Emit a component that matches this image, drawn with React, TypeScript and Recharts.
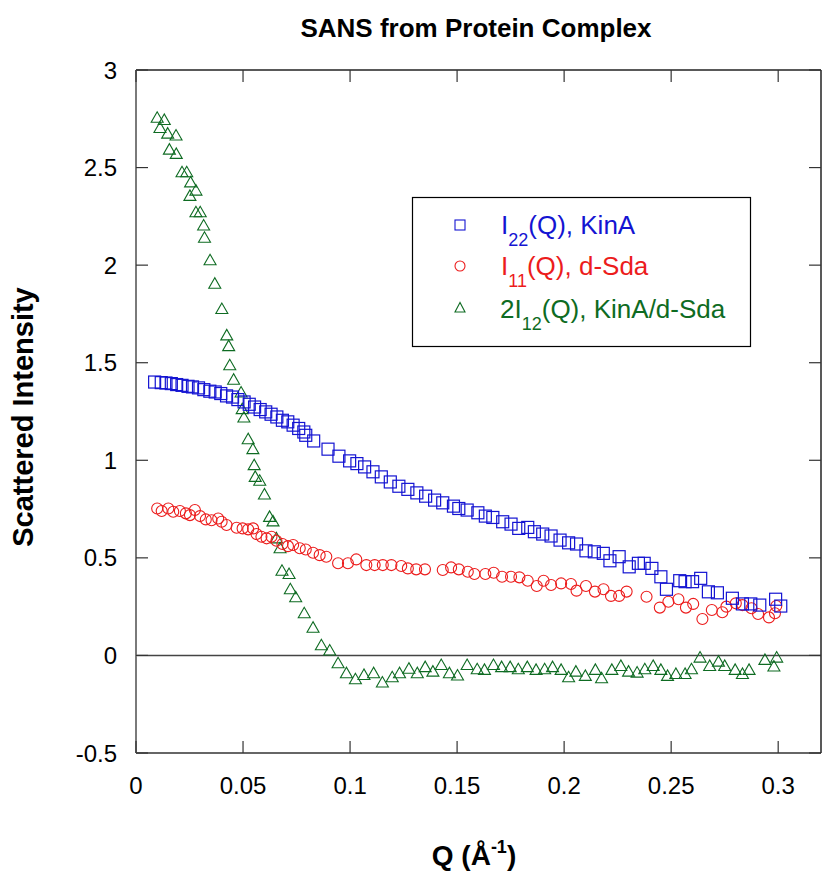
import React from "react";
import { ScatterChart, Scatter, XAxis, YAxis, ReferenceLine } from "recharts";

// ---- Data ----
const xTicks = [0, 0.05, 0.1, 0.15, 0.2, 0.25, 0.3];
const yTicks = [-0.5, 0, 0.5, 1, 1.5, 2, 2.5, 3];

const kinaQ = [
  0.0087, 0.0118, 0.014, 0.0165, 0.019, 0.0215, 0.0243, 0.0264, 0.0292, 0.0317,
  0.0345, 0.037, 0.0396, 0.0423, 0.0451, 0.0476, 0.0505, 0.0529, 0.0554, 0.058,
  0.0606, 0.0631, 0.0658, 0.0684, 0.0709, 0.0734, 0.076, 0.0784, 0.0793, 0.083,
  0.0897, 0.0948, 0.0998, 0.1032, 0.1068, 0.1107, 0.1146, 0.1188, 0.1228, 0.127,
  0.1312, 0.1353, 0.1395, 0.1433, 0.1483, 0.1508, 0.1547, 0.1597, 0.1632, 0.1667,
  0.1713, 0.1752, 0.1788, 0.183, 0.1861, 0.19, 0.1939, 0.1981, 0.2021, 0.2058,
  0.2102, 0.2141, 0.2183, 0.2214, 0.2257, 0.2304, 0.2347, 0.2374, 0.241, 0.2452,
  0.2478, 0.254, 0.2565, 0.26, 0.2638, 0.2674, 0.2716, 0.2786, 0.2833, 0.2872,
  0.2914, 0.2988, 0.3012,
];
const kinaI = [
  1.401, 1.398, 1.396, 1.393, 1.388, 1.384, 1.379, 1.376, 1.371, 1.362,
  1.354, 1.35, 1.342, 1.33, 1.324, 1.311, 1.299, 1.287, 1.273, 1.26,
  1.248, 1.236, 1.222, 1.205, 1.197, 1.18, 1.163, 1.145, 1.128, 1.099,
  1.057, 1.021, 0.997, 0.983, 0.966, 0.941, 0.915, 0.889, 0.867, 0.851,
  0.833, 0.816, 0.796, 0.782, 0.765, 0.753, 0.745, 0.731, 0.714, 0.707,
  0.685, 0.673, 0.651, 0.656, 0.634, 0.622, 0.612, 0.591, 0.577, 0.571,
  0.536, 0.531, 0.523, 0.485, 0.506, 0.454, 0.472, 0.472, 0.446, 0.403,
  0.339, 0.383, 0.378, 0.378, 0.395, 0.326, 0.321, 0.293, 0.264, 0.264,
  0.258, 0.288, 0.253,
];

const sdaQ = [
  0.0099, 0.012, 0.0151, 0.0174, 0.0205, 0.0233, 0.0252, 0.0275, 0.0299, 0.0326,
  0.0353, 0.0384, 0.04, 0.0423, 0.047, 0.0498, 0.0524, 0.0547, 0.0563, 0.0586,
  0.061, 0.0633, 0.0656, 0.0684, 0.071, 0.0734, 0.0765, 0.0793, 0.0827, 0.0858,
  0.0889, 0.0944, 0.099, 0.1029, 0.1076, 0.1115, 0.1153, 0.1193, 0.1239, 0.127,
  0.1309, 0.135, 0.1433, 0.1472, 0.1508, 0.155, 0.1581, 0.1632, 0.1671, 0.171,
  0.1752, 0.1791, 0.183, 0.1872, 0.1904, 0.1939, 0.1986, 0.2032, 0.2058, 0.2102,
  0.2144, 0.2184, 0.2219, 0.2257, 0.2292, 0.2385, 0.2447, 0.2487, 0.2534, 0.2569,
  0.2603, 0.2646, 0.269, 0.2739, 0.2758, 0.2802, 0.2833, 0.2875, 0.2906, 0.2957,
  0.2985, 0.2991,
];
const sdaI = [
  0.753, 0.74, 0.753, 0.736, 0.74, 0.728, 0.719, 0.745, 0.714, 0.697,
  0.693, 0.702, 0.685, 0.668, 0.654, 0.651, 0.646, 0.651, 0.622, 0.608,
  0.6, 0.608, 0.588, 0.571, 0.56, 0.566, 0.549, 0.543, 0.526, 0.514,
  0.506, 0.472, 0.472, 0.492, 0.463, 0.463, 0.463, 0.463, 0.458, 0.446,
  0.441, 0.441, 0.438, 0.451, 0.441, 0.429, 0.417, 0.417, 0.424, 0.403,
  0.403, 0.4, 0.383, 0.356, 0.383, 0.361, 0.369, 0.366, 0.332, 0.356,
  0.327, 0.339, 0.305, 0.305, 0.327, 0.301, 0.245, 0.275, 0.288, 0.245,
  0.264, 0.187, 0.233, 0.221, 0.25, 0.267, 0.258, 0.242, 0.212, 0.195,
  0.216, 0.253,
];

const crossQ = [
  0.0099, 0.0132, 0.0112, 0.0148, 0.0187, 0.0156, 0.0188, 0.0215, 0.0237, 0.0255,
  0.028, 0.0252, 0.028, 0.03, 0.0316, 0.032, 0.0346, 0.0368, 0.0401, 0.0424,
  0.0433, 0.0438, 0.0456, 0.0491, 0.0496, 0.0504, 0.0524, 0.0546, 0.0552, 0.0557,
  0.0578, 0.06, 0.0624, 0.064, 0.0656, 0.0673, 0.0682, 0.0715, 0.0721, 0.0746,
  0.0786, 0.0827, 0.0866, 0.0905, 0.0944, 0.0983, 0.1025, 0.1065, 0.111, 0.1151,
  0.1197, 0.1231, 0.1275, 0.1314, 0.1351, 0.1387, 0.1426, 0.1464, 0.1502, 0.1547,
  0.1594, 0.1628, 0.167, 0.1708, 0.1748, 0.1786, 0.1828, 0.1869, 0.1909, 0.1946,
  0.1986, 0.2021, 0.2055, 0.2099, 0.2146, 0.2175, 0.2223, 0.2265, 0.2301, 0.2341,
  0.2377, 0.2416, 0.2452, 0.2483, 0.2522, 0.2565, 0.2595, 0.2635, 0.268, 0.2721,
  0.275, 0.2799, 0.2833, 0.2864, 0.2938, 0.298, 0.2993,
];
const crossI = [
  2.755, 2.744, 2.703, 2.674, 2.664, 2.592, 2.57, 2.476, 2.476, 2.424,
  2.382, 2.355, 2.271, 2.271, 2.203, 2.14, 2.025, 1.905, 1.775, 1.64,
  1.585, 1.487, 1.413, 1.347, 1.262, 1.219, 1.108, 1.057, 0.975, 0.915,
  0.895, 0.825, 0.71, 0.687, 0.6, 0.549, 0.434, 0.417, 0.339, 0.298,
  0.216, 0.142, 0.052, 0.025, -0.04, -0.091, -0.122, -0.1, -0.091, -0.139,
  -0.112, -0.091, -0.068, -0.091, -0.06, -0.083, -0.049, -0.091, -0.103, -0.049,
  -0.071, -0.074, -0.049, -0.06, -0.06, -0.071, -0.06, -0.074, -0.071, -0.06,
  -0.074, -0.112, -0.083, -0.105, -0.074, -0.117, -0.074, -0.054, -0.083, -0.088,
  -0.071, -0.054, -0.074, -0.105, -0.095, -0.095, -0.071, -0.011, -0.054, -0.032,
  -0.054, -0.074, -0.095, -0.074, -0.023, -0.057, -0.011,
];

const seriesNames = ["KinA", "d-Sda", "KinA/d-Sda"];
const title = "SANS from Protein Complex";
const yTitle = "Scattered Intensity";

const toPoints = (qs: number[], is: number[]) => qs.map((q, i) => ({ q, v: is[i] }));
const kinaData = toPoints(kinaQ, kinaI);
const sdaData = toPoints(sdaQ, sdaI);
const crossData = toPoints(crossQ, crossI);

const BLUE = "#1414d2";
const RED = "#ec1c1c";
const GREEN = "#0e6b22";
const FONT = "'Liberation Sans', Arial, Helvetica, sans-serif";
const TICK_LEN = 12;

const SquareShape = (p: any) => (
  <rect x={p.cx - 6} y={p.cy - 6} width={12} height={12} fill="none" stroke={BLUE} strokeWidth={1.2} />
);
const CircleShape = (p: any) => (
  <circle cx={p.cx} cy={p.cy} r={5.5} fill="none" stroke={RED} strokeWidth={1.1} />
);
const TriangleShape = (p: any) => (
  <path
    d={`M${p.cx},${p.cy - 6} L${p.cx - 6},${p.cy + 4.5} L${p.cx + 6},${p.cy + 4.5} Z`}
    fill="none"
    stroke={GREEN}
    strokeWidth={1.1}
  />
);
const NoShape = () => <g />;

// Custom ticks: inward tick marks, label outside
const BottomTick = (p: any) => (
  <g>
    <line x1={p.x} y1={p.y} x2={p.x} y2={p.y - TICK_LEN} stroke="#333" strokeWidth={1.2} />
    <text x={p.x} y={p.y + 41} textAnchor="middle" fontFamily={FONT} fontSize={24} fill="#000">
      {String(p.payload.value)}
    </text>
  </g>
);
const LeftTick = (p: any) => (
  <g>
    <line x1={p.x} y1={p.y} x2={p.x + TICK_LEN} y2={p.y} stroke="#333" strokeWidth={1.2} />
    <text x={p.x - 19} y={p.y + 8.5} textAnchor="end" fontFamily={FONT} fontSize={24} fill="#000">
      {String(p.payload.value)}
    </text>
  </g>
);
const TopTick = (p: any) => (
  <line x1={p.x} y1={p.y} x2={p.x} y2={p.y + TICK_LEN} stroke="#333" strokeWidth={1.2} />
);
const RightTick = (p: any) => (
  <line x1={p.x} y1={p.y} x2={p.x - TICK_LEN} y2={p.y} stroke="#333" strokeWidth={1.2} />
);

export default function App() {
  return (
    <div style={{ position: "absolute", left: 0, top: 0, width: 823, height: 873, background: "#fff" }}>
      <ScatterChart width={823} height={873} margin={{ top: 69, right: 1, bottom: 60, left: 76 }}>
        <XAxis
          xAxisId="b"
          dataKey="q"
          type="number"
          domain={[0, 0.32]}
          ticks={xTicks}
          allowDataOverflow
          orientation="bottom"
          height={60}
          tickSize={0}
          tickMargin={0}
          tickLine={false}
          tick={BottomTick}
          interval={0}
          axisLine={{ stroke: "#333", strokeWidth: 1.5 }}
        />
        <XAxis
          xAxisId="t"
          dataKey="q"
          type="number"
          domain={[0, 0.32]}
          ticks={xTicks}
          allowDataOverflow
          orientation="top"
          height={1}
          tickSize={0}
          tickMargin={0}
          tickLine={false}
          tick={TopTick}
          interval={0}
          axisLine={{ stroke: "#222", strokeWidth: 1.5 }}
        />
        <YAxis
          yAxisId="l"
          dataKey="v"
          type="number"
          domain={[-0.5, 3]}
          ticks={yTicks}
          allowDataOverflow
          orientation="left"
          width={60}
          tickSize={0}
          tickMargin={0}
          tickLine={false}
          tick={LeftTick}
          interval={0}
          axisLine={{ stroke: "#7a7a7a", strokeWidth: 2 }}
        />
        <YAxis
          yAxisId="r"
          dataKey="v"
          type="number"
          domain={[-0.5, 3]}
          ticks={yTicks}
          allowDataOverflow
          orientation="right"
          width={1}
          tickSize={0}
          tickMargin={0}
          tickLine={false}
          tick={RightTick}
          interval={0}
          axisLine={{ stroke: "#222", strokeWidth: 1.5 }}
        />
        <ReferenceLine xAxisId="b" yAxisId="l" y={0} stroke="#444" strokeWidth={1.4} />
        <Scatter xAxisId="t" yAxisId="r" data={kinaData} shape={NoShape} isAnimationActive={false} />
        <Scatter xAxisId="b" yAxisId="l" data={crossData} shape={TriangleShape} isAnimationActive={false} />
        <Scatter xAxisId="b" yAxisId="l" data={sdaData} shape={CircleShape} isAnimationActive={false} />
        <Scatter xAxisId="b" yAxisId="l" data={kinaData} shape={SquareShape} isAnimationActive={false} />
      </ScatterChart>
      <svg width={823} height={873} style={{ position: "absolute", left: 0, top: 0, pointerEvents: "none" }}>
        <text x={476} y={37} textAnchor="middle" fontFamily={FONT} fontWeight="bold" fontSize={26} fill="#000">
          {title}
        </text>
        <text
          transform="translate(33,417) rotate(-90)"
          textAnchor="middle"
          fontFamily={FONT}
          fontWeight="bold"
          fontSize={29}
          fill="#000"
        >
          {yTitle}
        </text>
        <text x={474} y={865} textAnchor="middle" fontFamily={FONT} fontWeight="bold" fontSize={28} fill="#000">
          Q (Å<tspan dy={-12} fontSize={18}>-1</tspan>
          <tspan dy={12}>)</tspan>
        </text>
        {/* Legend */}
        <rect x={412.5} y={197.5} width={338} height={149} fill="#fff" stroke="#000" strokeWidth={1.2} />
        <rect x={455} y={220} width={10} height={10} fill="none" stroke={BLUE} strokeWidth={1.1} />
        <circle cx={460} cy={266} r={5} fill="none" stroke={RED} strokeWidth={1.1} />
        <path d="M460,302.5 L455,312 L465,312 Z" fill="none" stroke={GREEN} strokeWidth={1.1} />
        <text x={501} y={234} fontFamily={FONT} fontSize={26} fill={BLUE}>
          I<tspan dy={12} fontSize={18}>22</tspan>
          <tspan dy={-12}>(Q), {seriesNames[0]}</tspan>
        </text>
        <text x={501} y={275} fontFamily={FONT} fontSize={26} fill={RED}>
          I<tspan dy={12} fontSize={18}>11</tspan>
          <tspan dy={-12}>(Q), {seriesNames[1]}</tspan>
        </text>
        <text x={500} y={318} fontFamily={FONT} fontSize={26} fill={GREEN}>
          2I<tspan dy={12} fontSize={18}>12</tspan>
          <tspan dy={-12}>(Q), {seriesNames[2]}</tspan>
        </text>
      </svg>
    </div>
  );
}
